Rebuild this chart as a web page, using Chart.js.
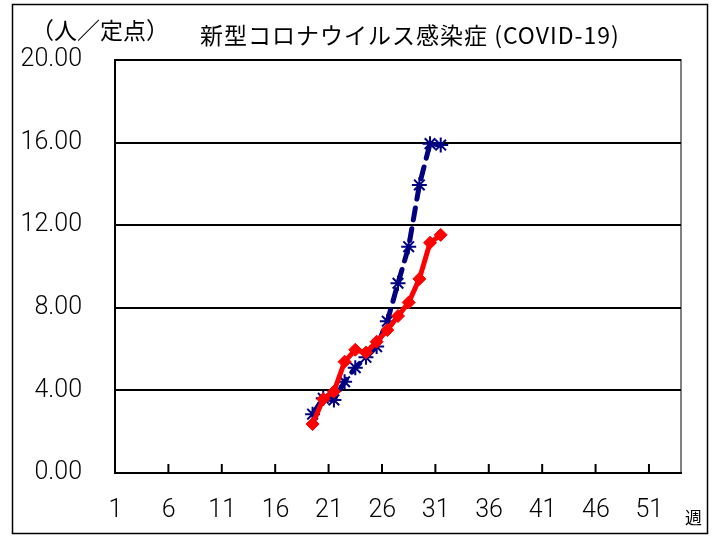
<!DOCTYPE html>
<html>
<head>
<meta charset="utf-8">
<script src="https://cdn.jsdelivr.net/npm/chart.js@4"></script>
<style>
html,body{margin:0;padding:0;background:#fff;}
#wrap{width:718px;height:536px;position:relative;}
</style>
</head>
<body>
<div id="wrap"><canvas id="c" width="718" height="536"></canvas></div>
<script>
// Categories (weeks)
const weeks = ['1','2','3','4','5','6','7','8','9','10','11','12','13','14','15','16','17','18','19','20',
  '21','22','23','24','25','26','27','28','29','30','31','32','33','34','35','36','37','38','39','40',
  '41','42','43','44','45','46','47','48','49','50','51','52','53'];
// Weeks with data
const dataWeeks = ['19','20','21','22','23','24','25','26','27','28','29','30','31'];
// Series values (persons per sentinel site)
const redValues  = [2.37, 3.58, 3.94, 5.39, 5.97, 5.83, 6.36, 6.92, 7.60, 8.26, 9.40, 11.15, 11.53];
const blueValues = [2.85, 3.62, 3.54, 4.42, 5.10, 5.60, 6.12, 7.35, 9.19, 10.96, 13.95, 15.95, 15.88];
// Texts
const titleText = '新型コロナウイルス感染症 (COVID-19)';
const unitText = '（人／定点）';
const weekText = '週';

const tickFont = 'Roboto, "Liberation Sans", sans-serif';
const cjkFont = '"Noto Sans CJK JP", sans-serif';

const decor = {
  id: 'decor',
  beforeDraw(chart) {
    const ctx = chart.ctx, a = chart.chartArea;
    ctx.save();
    ctx.fillStyle = '#fff';
    ctx.fillRect(0, 0, chart.width, chart.height);
    ctx.strokeStyle = '#808080';
    ctx.lineWidth = 2;
    ctx.beginPath();
    ctx.moveTo(a.left, a.top);
    ctx.lineTo(a.right, a.top);
    ctx.lineTo(a.right, a.bottom);
    ctx.stroke();
    ctx.restore();
  },
  afterDraw(chart) {
    const ctx = chart.ctx, a = chart.chartArea, xs = chart.scales.x;
    ctx.save();
    ctx.strokeStyle = '#000';
    ctx.lineWidth = 2;
    for (let i = 5; i < weeks.length; i += 5) {
      const x = (xs.getPixelForValue(i - 1) + xs.getPixelForValue(i)) / 2;
      ctx.beginPath();
      ctx.moveTo(x, a.bottom);
      ctx.lineTo(x, a.bottom - 9);
      ctx.stroke();
    }
    ctx.lineWidth = 1.5;
    ctx.strokeRect(12.5, 4.5, 695, 529);
    ctx.fillStyle = '#000';
    ctx.textBaseline = 'middle';
    ctx.textAlign = 'left';
    ctx.font = '23px ' + cjkFont;
    ctx.fillText(unitText, 31, 30);
    ctx.font = '23px ' + cjkFont;
    try { ctx.letterSpacing = '1px'; } catch (e) {}
    ctx.fillText(titleText, 200, 35);
    try { ctx.letterSpacing = '0px'; } catch (e) {}
    ctx.font = '17px ' + cjkFont;
    ctx.fillText(weekText, 685, 518);
    ctx.restore();
  }
};

new Chart(document.getElementById('c'), {
  type: 'line',
  data: {
    labels: weeks,
    datasets: [
      {
        label: 'A',
        data: dataWeeks.map((w, i) => ({x: w, y: redValues[i]})),
        borderColor: '#ff0000',
        backgroundColor: '#ff0000',
        borderWidth: 5,
        pointStyle: 'rectRot',
        pointRadius: 6.5,
        pointBorderWidth: 1,
        pointBorderColor: '#ff0000',
        tension: 0
      },
      {
        label: 'B',
        data: dataWeeks.map((w, i) => ({x: w, y: blueValues[i]})),
        borderColor: '#000080',
        backgroundColor: '#000080',
        borderWidth: 5,
        borderDash: [12, 9],
        borderCapStyle: 'round',
        pointStyle: 'star',
        pointRadius: 7.5,
        pointBorderWidth: 2,
        pointBorderColor: '#000080',
        tension: 0
      }
    ]
  },
  options: {
    responsive: false,
    animation: false,
    devicePixelRatio: 1,
    layout: { padding: { left: 0, right: 37, top: 60, bottom: 0 } },
    plugins: { legend: { display: false }, tooltip: { enabled: false }, title: { display: false } },
    scales: {
      x: {
        type: 'category',
        offset: true,
        grid: { display: false, offset: true },
        border: { display: true, color: '#000', width: 2 },
        ticks: {
          autoSkip: false,
          maxRotation: 0,
          minRotation: 0,
          padding: 15,
          labelOffset: -5,
          color: '#000',
          font: { family: tickFont, size: 25, weight: '300' },
          callback: function(v, i) { return i % 5 === 0 ? weeks[i] : ''; }
        },
        afterFit(s) { s.height = 63; }
      },
      y: {
        min: 0,
        max: 20,
        grid: { color: '#000', lineWidth: 2, drawTicks: false },
        border: { display: true, color: '#000', width: 2 },
        ticks: {
          stepSize: 4,
          padding: 33,
          color: '#000',
          font: { family: tickFont, size: 25, weight: '300' },
          callback: v => v.toFixed(2)
        },
        afterFit(s) { s.width = 115; }
      }
    }
  },
  plugins: [decor]
});
</script>
</body>
</html>
